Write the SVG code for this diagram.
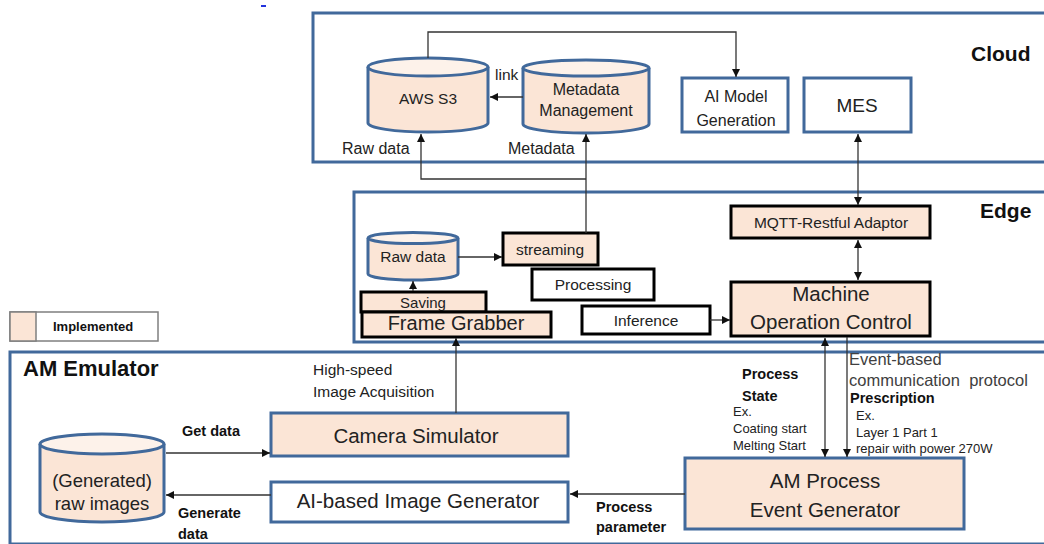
<svg xmlns="http://www.w3.org/2000/svg" width="1044" height="544" viewBox="0 0 1044 544">
<defs>
<marker id="arr" viewBox="0 0 10 10" refX="10" refY="5" markerWidth="8" markerHeight="8" markerUnits="userSpaceOnUse" orient="auto-start-reverse">
<path d="M0,0 L10,5 L0,10 Z" fill="#111"/>
</marker>
<style>
text{font-family:"Liberation Sans",Arial,sans-serif;fill:#222}
.b{font-weight:bold;fill:#111}
.c{text-anchor:middle}
.zone{fill:none;stroke:#41699B;stroke-width:3}
.pb{fill:#FBE5D6;stroke:#41699B;stroke-width:3}
.wb{fill:#fff;stroke:#41699B;stroke-width:3}
.pk{fill:#FBE5D6;stroke:#000;stroke-width:3}
.wk{fill:#fff;stroke:#000;stroke-width:3}
.cap{fill:#FDF2EA;stroke:#41699B;stroke-width:3}
.ln{fill:none;stroke:#333;stroke-width:1.3}
.g{fill:#404040}
</style>
</defs>
<rect x="261" y="5" width="5" height="2" fill="#2233DD"/>
<g id="zones">
<rect class="zone" x="313" y="13" width="760" height="149"/>
<rect class="zone" x="354" y="192" width="720" height="150"/>
<rect class="zone" x="10" y="352" width="1064" height="192"/>
<text class="b" x="971" y="61" font-size="21">Cloud</text>
<text class="b" x="980" y="218" font-size="21">Edge</text>
<text class="b" x="23" y="376" font-size="22">AM Emulator</text>
</g>
<g id="legend">
<rect x="10" y="312" width="148" height="29" fill="#fff" stroke="#7F7F7F" stroke-width="1.5"/>
<rect x="10" y="312" width="26" height="29" fill="#FBE5D6" stroke="#7F7F7F" stroke-width="1.5"/>
<text class="b" x="53" y="331" font-size="13">Implemented</text>
</g>
<g id="aws-s3">
<path class="pb" d="M368,67 V123 A60,9 0 0 0 488,123 V67"/>
<ellipse class="cap" cx="428" cy="67" rx="60" ry="9"/>
<text class="c" x="428" y="104" font-size="15.5">AWS S3</text>
</g>
<g id="metadata-management">
<path class="pb" d="M523,68 V124 A63,9 0 0 0 649,124 V68"/>
<ellipse class="cap" cx="586" cy="68" rx="63" ry="8"/>
<text class="c" x="586" y="95" font-size="16">Metadata</text>
<text class="c" x="586" y="116" font-size="16">Management</text>
</g>
<g id="ai-model">
<rect class="wb" x="682" y="78" width="106" height="54"/>
<text class="c" x="736" y="102" font-size="16">AI Model</text>
<text class="c" x="736" y="126" font-size="16">Generation</text>
</g>
<g id="mes">
<rect class="wb" x="804" y="78" width="107" height="54"/>
<text class="c" x="857" y="112" font-size="19">MES</text>
</g>
<g id="mqtt">
<rect class="pk" x="731" y="206" width="199" height="32"/>
<text class="c" x="831" y="228" font-size="15.5">MQTT-Restful Adaptor</text>
</g>
<g id="machine-operation-control">
<rect class="pk" x="731" y="282" width="199" height="54"/>
<text class="c" x="831" y="301" font-size="20.5">Machine</text>
<text class="c" x="831" y="329" font-size="20.5">Operation Control</text>
</g>
<g id="raw-data-edge">
<path class="pb" d="M368,238 V274 A45,6 0 0 0 458,274 V238"/>
<ellipse class="cap" cx="413" cy="238" rx="45" ry="5.5"/>
<text class="c" x="413" y="262" font-size="15.5">Raw data</text>
</g>
<g id="streaming">
<rect class="pk" x="503" y="233" width="95" height="32"/>
<text class="c" x="550" y="255" font-size="15.5">streaming</text>
</g>
<g id="processing">
<rect class="wk" x="532" y="269" width="122" height="31"/>
<text class="c" x="593" y="290" font-size="15.5">Processing</text>
</g>
<g id="inference">
<rect class="wk" x="582" y="306" width="128" height="28"/>
<text class="c" x="646" y="326" font-size="15.5">Inference</text>
</g>
<g id="saving">
<rect class="pk" x="361" y="292" width="125" height="20"/>
<text class="c" x="423" y="308" font-size="15">Saving</text>
</g>
<g id="frame-grabber">
<rect class="pk" x="362" y="312" width="189" height="25"/>
<text class="c" x="456" y="330" font-size="20">Frame Grabber</text>
</g>
<g id="generated-raw-images">
<path class="pb" d="M40,444 V512 A62,10 0 0 0 164,512 V444"/>
<ellipse class="cap" cx="102" cy="444" rx="62" ry="10"/>
<text class="c" x="102" y="487" font-size="18.5">(Generated)</text>
<text class="c" x="102" y="510" font-size="18.5">raw images</text>
</g>
<g id="camera-simulator">
<rect class="pb" x="271" y="413" width="297" height="43"/>
<text class="c" x="416" y="443" font-size="20.5">Camera Simulator</text>
</g>
<g id="ai-image-generator">
<rect class="wb" x="271" y="482" width="297" height="40"/>
<text class="c" x="418" y="508" font-size="20.5">AI-based Image Generator</text>
</g>
<g id="am-process-event-generator">
<rect class="pb" x="685" y="458" width="279" height="71"/>
<text class="c" x="825" y="488" font-size="20.5">AM Process</text>
<text class="c" x="825" y="517" font-size="20.5">Event Generator</text>
</g>
<g id="connectors">
<path class="ln" d="M428,58 V32 H736 V77" marker-end="url(#arr)"/>
<path class="ln" d="M523,97 H490" marker-end="url(#arr)"/>
<path class="ln" d="M586,233 V134" marker-end="url(#arr)"/>
<path class="ln" d="M586,179 H421 V134" marker-end="url(#arr)"/>
<path class="ln" d="M858,205 V134" marker-start="url(#arr)" marker-end="url(#arr)"/>
<path class="ln" d="M858,240 V280" marker-start="url(#arr)" marker-end="url(#arr)"/>
<path class="ln" d="M458,257 H502" marker-end="url(#arr)"/>
<path class="ln" d="M413,291 V281" marker-end="url(#arr)"/>
<path class="ln" d="M456,413 V338" marker-end="url(#arr)"/>
<path class="ln" d="M710,320 H730" marker-end="url(#arr)"/>
<path class="ln" d="M825,338 V457" marker-start="url(#arr)" marker-end="url(#arr)"/>
<path class="ln" d="M847,337 V457" marker-end="url(#arr)"/>
<path class="ln" d="M166,453 H270" marker-end="url(#arr)"/>
<path class="ln" d="M271,495 H166" marker-end="url(#arr)"/>
<path class="ln" d="M685,494 H570" marker-end="url(#arr)"/>
</g>
<g id="labels">
<text x="495" y="80" font-size="15.5">link</text>
<text x="342" y="154" font-size="16">Raw data</text>
<text x="508" y="154" font-size="16">Metadata</text>
<text x="313" y="375" font-size="15.5">High-speed</text>
<text x="313" y="397" font-size="15.5">Image Acquisition</text>
<text class="b" x="182" y="436" font-size="14.5">Get data</text>
<text class="b" x="178" y="518" font-size="14.5">Generate</text>
<text class="b" x="178" y="539" font-size="14.5">data</text>
<text class="b" x="596" y="512" font-size="14.5">Process</text>
<text class="b" x="596" y="532" font-size="14.5">parameter</text>
<text class="b" x="742" y="379" font-size="14.5">Process</text>
<text class="b" x="742" y="401" font-size="14.5">State</text>
<text x="733" y="416" font-size="13">Ex.</text>
<text x="733" y="433" font-size="13">Coating start</text>
<text x="733" y="450" font-size="13">Melting Start</text>
<text class="g" x="849" y="365" font-size="16.5">Event-based</text>
<text class="g" x="849" y="386" font-size="16.5" style="white-space:pre">communication  protocol</text>
<text class="b" x="850" y="403" font-size="14.5">Prescription</text>
<text x="856" y="420" font-size="13">Ex.</text>
<text x="856" y="437" font-size="13">Layer 1 Part 1</text>
<text x="856" y="453" font-size="13">repair with power 270W</text>
</g>
</svg>
